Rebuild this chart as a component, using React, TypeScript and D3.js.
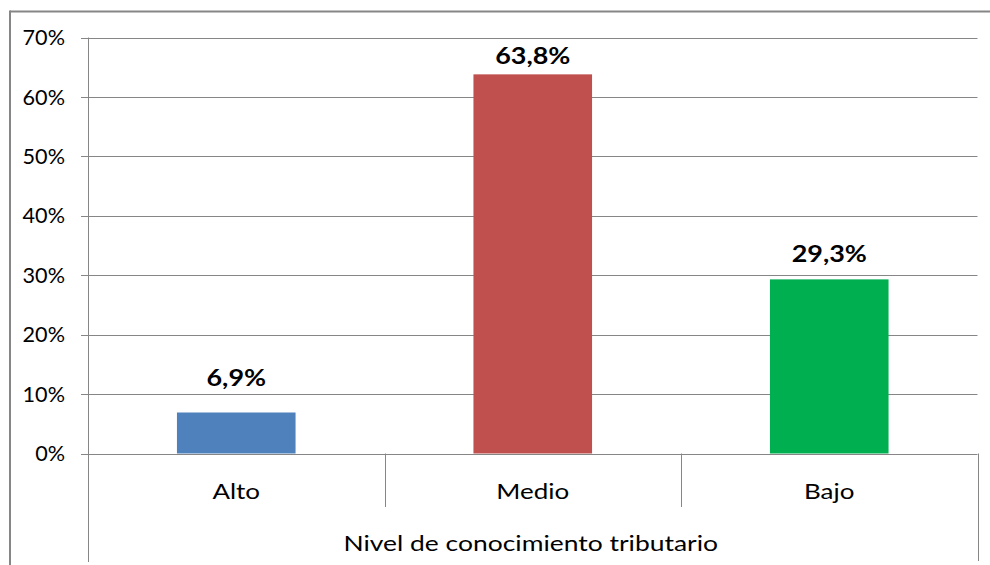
import React from "react";
import * as d3 from "d3";

const categories = ["Alto", "Medio", "Bajo"];
const values = [6.9, 63.8, 29.3];
const valueLabels = ["6,9%", "63,8%", "29,3%"];
const colors = ["#4F81BD", "#C0504D", "#00B050"];
const yTicks = [0, 10, 20, 30, 40, 50, 60, 70];
const axisTitle = "Nivel de conocimiento tributario";

const W = 990;
const H = 565;
const left = 88;
const right = 977.5;
const top = 37.5;
const bottom = 453.5;
const font = "Lato, 'Open Sans', sans-serif";
const gray = "#868686";
const labelLift = [26.5, 10.5, 17.5];

function SText(props: {
  x: number;
  y: number;
  sx: number;
  size: number;
  bold?: boolean;
  anchor?: string;
  dy?: string;
  children: React.ReactNode;
}) {
  return (
    <g transform={`translate(${props.x},${props.y}) scale(${props.sx},1)`}>
      <text
        x={0}
        y={0}
        dy={props.dy}
        textAnchor={props.anchor || "middle"}
        fontFamily={font}
        fontWeight={props.bold ? "bold" : "normal"}
        fontSize={props.size}
        fill="#000"
      >
        {props.children}
      </text>
    </g>
  );
}

export default function App() {
  const x = d3.scaleBand<string>().domain(categories).range([left, right]).paddingInner(0).paddingOuter(0);
  const y = d3.scaleLinear().domain([0, 70]).range([bottom, top]);
  const bw = x.bandwidth() * 0.4;
  const bounds = [left, ...categories.map((c) => (x(c) as number) + x.bandwidth())];

  return (
    <svg width={W} height={H} style={{ position: "absolute", left: 0, top: 0, background: "#fff" }}>
      <rect x={0} y={0} width={W} height={H} fill="#fff" />
      <line x1={10} y1={11.5} x2={W} y2={11.5} stroke={gray} strokeWidth={2} />
      <line x1={10} y1={10.5} x2={10} y2={H} stroke={gray} strokeWidth={2} />
      {yTicks.map((t) => (
        <g key={t}>
          <line x1={81} x2={right} y1={Math.round(y(t)) + 0.5} y2={Math.round(y(t)) + 0.5} stroke={gray} strokeWidth={1} />
          <SText x={65} y={y(t)} dy="0.36em" sx={1.03} size={21} anchor="end">
            {t}%
          </SText>
        </g>
      ))}
      <line x1={left + 0.5} x2={left + 0.5} y1={top} y2={562} stroke={gray} strokeWidth={1} />
      {bounds.map((b, i) => {
        const isEnd = i === 0 || i === bounds.length - 1;
        return (
          <line
            key={i}
            x1={Math.round(b) + 0.5}
            x2={Math.round(b) + 0.5}
            y1={bottom}
            y2={isEnd ? 561 : 507}
            stroke={gray}
            strokeWidth={1}
          />
        );
      })}
      {categories.map((c, i) => {
        const cx = (x(c) as number) + x.bandwidth() / 2;
        return (
          <g key={c}>
            <rect x={cx - bw / 2} y={y(values[i])} width={bw} height={bottom - y(values[i])} fill={colors[i]} />
            <SText x={cx} y={y(values[i]) - labelLift[i]} sx={1.17} size={23} bold>
              {valueLabels[i]}
            </SText>
            <SText x={cx} y={498.5} sx={1.18} size={22}>
              {c}
            </SText>
          </g>
        );
      })}
      <SText x={(left + right) / 2 - 2} y={550.5} sx={1.26} size={21}>
        {axisTitle}
      </SText>
    </svg>
  );
}
